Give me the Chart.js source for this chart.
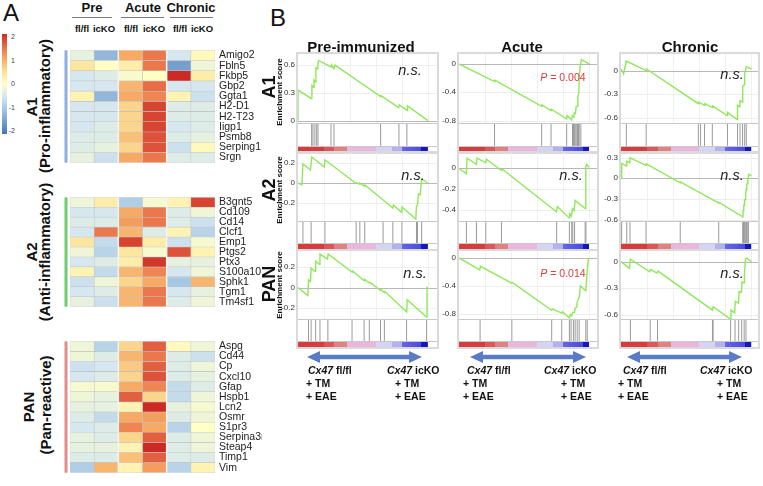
<!DOCTYPE html>
<html>
<head>
<meta charset="utf-8">
<script src="https://cdn.jsdelivr.net/npm/chart.js@4.4.1/dist/chart.umd.min.js"></script>
<style>
body { margin: 0; background: #fff; }
#fig { position: relative; width: 763px; height: 486px; overflow: hidden; background: #fff;
  font-family: "Liberation Sans", Arial, Helvetica, sans-serif; color: #111; }
#fig canvas { position: absolute; }
.t { position: absolute; line-height: 1; white-space: nowrap; transform: translate(-50%, -50%); }
.line { position: absolute; height: 1px; background: #7a7a7a; }
</style>
</head>
<body>
<div id="fig"></div>
<script>
// ---- heatmap data (z-scores) ----
const conditions = ['Pre', 'Acute', 'Chronic'];
const genotypes = ['fl/fl', 'icKO'];

const a1Genes = ['Amigo2', 'Fbln5', 'Fkbp5', 'Gbp2', 'Ggta1', 'H2-D1', 'H2-T23', 'Iigp1', 'Psmb8', 'Serping1', 'Srgn'];
const a1Values = [
  [-0.3, -1.2, 1.0, 1.4, -0.5, 0.1],
  [0.4, 0.0, 0.3, 1.4, -1.5, -0.2],
  [-0.5, -0.4, -0.1, 0.0, 2.0, 0.3],
  [-0.5, -0.5, 0.9, 1.5, -0.5, -0.5],
  [0.2, -1.2, 1.0, 1.3, 0.2, -0.6],
  [-0.5, -0.5, 0.6, 1.8, -0.4, -0.4],
  [-0.5, -0.5, 0.6, 1.8, -0.4, -0.4],
  [-0.5, -0.4, 0.6, 1.8, -0.5, -0.4],
  [-0.4, -0.4, 0.8, 1.7, -0.4, -0.3],
  [-0.4, -0.3, 0.6, 1.7, -0.6, 0.1],
  [-0.3, -0.6, 1.0, 1.4, -0.4, -0.4]
];

const a2Genes = ['B3gnt5', 'Cd109', 'Cd14', 'Clcf1', 'Emp1', 'Ptgs2', 'Ptx3', 'S100a10', 'Sphk1', 'Tgm1', 'Tm4sf1'];
const a2Values = [
  [-0.2, 0.3, -0.9, -0.1, 0.2, 1.8],
  [-0.5, -0.5, 1.0, 1.4, -0.4, -0.2],
  [-0.4, -0.4, 1.1, 1.4, -0.4, -0.6],
  [-0.5, 1.4, 0.9, -0.4, 0.2, -0.8],
  [0.4, -0.7, 1.8, 0.3, -0.6, -0.1],
  [-0.2, -0.8, 0.4, -0.1, 1.7, 0.2],
  [-0.5, -0.4, 0.3, 1.9, -0.3, -0.3],
  [0.2, -0.7, 0.9, 1.3, -0.5, -0.2],
  [-0.6, -0.2, 0.6, 1.0, -1.0, 0.9],
  [-0.5, -0.4, 0.9, 1.4, -0.5, -0.3],
  [-0.3, -0.6, 0.9, 1.4, -0.4, -0.2]
];

const panGenes = ['Aspg', 'Cd44', 'Cp', 'Cxcl10', 'Gfap', 'Hspb1', 'Lcn2', 'Osmr', 'S1pr3', 'Serpina3n', 'Steap4', 'Timp1', 'Vim'];
const panValues = [
  [-0.2, -0.8, 0.6, 1.6, 0.1, -0.2],
  [-0.2, -0.4, 0.9, 1.4, -0.4, -0.6],
  [-0.6, -0.5, 0.7, 1.6, -0.4, -0.2],
  [-0.5, -0.4, 0.6, 1.7, -0.4, -0.3],
  [-0.1, -0.1, 1.0, 1.3, -0.7, -0.4],
  [-0.2, -0.3, 1.6, 0.6, -0.7, -0.2],
  [-0.3, -0.3, 0.2, 2.0, -0.3, -0.1],
  [-0.4, -0.7, 1.0, 1.1, -0.4, -0.2],
  [-0.5, -0.4, 1.3, 1.0, -0.8, 0.0],
  [-0.3, -0.4, 0.6, 1.6, -0.4, -0.2],
  [-0.3, -0.3, 0.2, 2.0, -0.4, -0.2],
  [-0.4, -0.4, 0.8, 1.6, -0.4, -0.4],
  [-0.9, 0.9, 0.2, 1.1, -0.8, 0.2]
];
const colorbarTicks = [2, 1, 0, -1, -2];

// ---- GSEA running enrichment scores: [rank %, ES] ----
const preA1Curve = [[0,0],[0,0.33],[10.2,0.24],[10.7,0.38],[12,0.36],[12.3,0.44],[13.3,0.42],[13.8,0.57],[14.8,0.56],[15.3,0.6],[15.8,0.65],[25.5,0.58],[26,0.6],[27.7,0.56],[28.5,0.6],[63.6,0.26],[63.8,0.27],[77.5,0.14],[78,0.17],[84,0.11],[84.3,0.16],[100,0]];
const acuteA1Curve = [[0,0],[27.3,-0.25],[27.5,-0.23],[63.5,-0.6],[63.7,-0.58],[70.7,-0.66],[71,-0.64],[82.7,-0.78],[83,-0.73],[86.5,-0.79],[87.2,-0.73],[88.2,-0.75],[88.5,-0.69],[89.5,-0.7],[90,-0.6],[91,-0.6],[91.3,-0.45],[92,-0.42],[92.3,-0.2],[93,-0.05],[94,0.06],[100,0]];
const chronicA1Curve = [[0,0.02],[2,-0.04],[4.1,0.12],[19.3,0],[19.5,0.02],[59.3,-0.42],[59.5,-0.4],[64,-0.44],[64.3,-0.42],[70,-0.47],[70.3,-0.45],[81.4,-0.57],[81.7,-0.53],[89,-0.62],[89.3,-0.44],[91,-0.46],[91.3,-0.38],[93,-0.4],[93.3,-0.2],[94.5,-0.18],[94.8,-0.04],[96,0.05],[100,0.02]];
const preA2Curve = [[0,0],[3,-0.02],[3.8,0.19],[9.6,0.13],[10.6,0.26],[20.2,0.16],[20.9,0.23],[44.3,0],[45,0.005],[47,-0.01],[47.5,0],[51,-0.03],[51.5,-0.02],[65.5,-0.17],[73,-0.25],[73.5,-0.22],[79.3,-0.29],[80,-0.24],[90.7,-0.36],[91.2,-0.23],[92,-0.22],[92.7,-0.11],[94,-0.12],[95.2,0.04],[100,0]];
const acuteA2Curve = [[0,0],[5.7,-0.05],[6.2,0.1],[13.4,0.04],[13.9,0.1],[20.6,0.055],[21.1,0.09],[32.6,-0.02],[33.2,-0.005],[74.8,-0.42],[75.6,-0.37],[84.6,-0.48],[85.1,-0.44],[86.4,-0.46],[87.1,-0.39],[88.4,-0.41],[89.2,-0.31],[96.9,-0.39],[97.4,0.02],[98.2,0.04],[100,0.01]];
const chronicA2Curve = [[0,0],[0.5,0.22],[4.2,0.18],[4.4,0.25],[6.7,0.23],[6.9,0.3],[19.2,0.19],[19.4,0.21],[45.4,-0.065],[45.6,-0.05],[74.9,-0.36],[75.1,-0.35],[93.3,-0.56],[93.5,-0.47],[93.9,-0.47],[94.1,-0.39],[94.5,-0.39],[94.7,-0.31],[95.1,-0.31],[95.3,-0.24],[95.7,-0.24],[95.9,-0.16],[96.3,-0.16],[96.5,-0.08],[97,-0.08],[97.2,0],[97.6,0],[97.8,0.06],[100,0.04]];
const prePanCurve = [[0,0],[7.6,-0.08],[8.1,0.077],[9.6,0.06],[10.1,0.19],[13.1,0.16],[13.6,0.26],[16.4,0.23],[16.9,0.33],[22.7,0.28],[23.2,0.33],[41.6,0.153],[42.1,0.16],[50.9,0.07],[51.5,0.08],[54.9,0.045],[55.5,0.05],[63.5,-0.03],[64,-0.02],[66.5,-0.05],[67,-0.04],[83.6,-0.24],[84.1,-0.12],[98.9,-0.29],[99.3,0],[100,0]];
const acutePanCurve = [[0,0],[15.9,-0.17],[16.5,-0.12],[40.4,-0.36],[40.9,-0.35],[71.2,-0.75],[71.7,-0.73],[78.9,-0.79],[79.4,-0.77],[84.8,-0.86],[85.6,-0.81],[86.6,-0.83],[87.4,-0.78],[88.7,-0.78],[89.2,-0.72],[90.5,-0.7],[90.8,-0.63],[91.6,-0.6],[92.5,-0.55],[93.3,-0.4],[97.4,-0.47],[98.2,-0.25],[98.8,-0.12],[99.5,0]];
const chronicPanCurve = [[0,0],[6.4,-0.077],[7.2,0.027],[21.9,-0.115],[22.7,-0.09],[27.6,-0.13],[28.4,-0.108],[70.1,-0.55],[70.6,-0.51],[83.8,-0.65],[84.3,-0.55],[87.1,-0.58],[87.6,-0.45],[90,-0.47],[90.5,-0.34],[92.3,-0.35],[92.8,-0.23],[94.3,-0.24],[94.6,-0.12],[95.5,0.03],[96.4,0.04],[100,0]];

// gene-set hit positions (rank %)
const preA1Hits = [10.5, 11.5, 13, 14.4, 15.4, 25.4, 27.7, 63.6, 77.7, 83.8];
const acuteA1Hits = [27.3, 63.5, 70.7, 82.7, 87.2, 88, 88.5, 89, 89.8, 90.6, 91.1, 91.8, 92.3, 93.6];
const chronicA1Hits = [4.1, 19.3, 59.3, 61, 64, 70, 81.6, 89.3, 91.2, 93.2, 94.8, 96];
const preA2Hits = [3.8, 10.1, 20.7, 44.8, 47.6, 51.4, 65.5, 73, 80, 91.2, 92, 95.2];
const acuteA2Hits = [5.7, 13.4, 20.6, 32.6, 75, 84.8, 86.6, 87.4, 88.8, 96.9, 97.5];
const chronicA2Hits = [0.5, 4.4, 6.9, 19.2, 45.4, 74.9, 93.3, 93.9, 94.5, 95.1, 95.7, 96.3, 97.2, 97.6];
const prePanHits = [8.1, 10.1, 13.6, 16.9, 23, 41.6, 50.9, 54.9, 63.5, 66.5, 83.6, 99];
const acutePanHits = [16.2, 40.6, 71.2, 78.9, 84.8, 86.1, 87.9, 89.2, 90.8, 92.3, 97.4, 98.5];
const chronicPanHits = [7.2, 22.4, 28, 70.1, 70.6, 84, 87.4, 90.2, 92.5, 94.4, 95.8];

// y tick labels of each enrichment plot
const preA1Ticks = [0, 0.3, 0.6];
const acuteA1Ticks = [-0.8, -0.4, 0];
const chronicA1Ticks = [-0.6, -0.3, 0];
const preA2Ticks = [-0.2, 0, 0.2];
const acuteA2Ticks = [-0.4, -0.2, 0];
const chronicA2Ticks = [-0.6, -0.3, 0, 0.3];
const prePanTicks = [-0.2, 0, 0.2];
const acutePanTicks = [-0.8, -0.4, 0];
const chronicPanTicks = [-0.6, -0.3, 0];

const columnTitles = ['Pre-immunized', 'Acute', 'Chronic'];
const rowTitles = ['A1', 'A2', 'PAN'];
const stats = [['n.s.', '<i>P</i> = 0.004', 'n.s.'], ['n.s.', 'n.s.', 'n.s.'], ['n.s.', '<i>P</i> = 0.014', 'n.s.']];

// ---------------------------------------------------------------
const FONT = '"Liberation Sans", Arial, Helvetica, sans-serif';
Chart.defaults.font.family = FONT;
const fig = document.getElementById('fig');

function txt(html, x, y, css, rotate) {
  const d = document.createElement('div');
  d.className = 't';
  d.innerHTML = html;
  d.style.cssText = 'left:' + x + 'px;top:' + y + 'px;' + (css || '');
  if (rotate) d.style.transform = 'translate(-50%,-50%) rotate(-90deg)';
  fig.appendChild(d);
  return d;
}
function canvas(x, y, w, h) {
  const c = document.createElement('canvas');
  c.width = w; c.height = h;
  c.style.left = x + 'px'; c.style.top = y + 'px';
  fig.appendChild(c);
  return c;
}

// colour scale of the heatmap
const heatStops = [[-2, [69, 117, 180]], [-1, [166, 200, 227]], [-0.5, [214, 231, 240]], [0, [255, 255, 198]],
  [0.5, [253, 224, 150]], [1, [246, 170, 100]], [1.5, [232, 108, 70]], [2, [204, 42, 36]]];
function heatColor(v) {
  v = Math.max(-2, Math.min(2, v));
  for (let i = 1; i < heatStops.length; i++) {
    const [v0, c0] = heatStops[i - 1];
    const [v1, c1] = heatStops[i];
    if (v <= v1) {
      const t = (v - v0) / (v1 - v0);
      return 'rgb(' + c0.map((c, k) => Math.round(c + (c1[k] - c) * t)).join(',') + ')';
    }
  }
}

const heatDecor = {
  id: 'heatDecor',
  afterDatasetsDraw(chart, args, opts) {
    const { ctx, chartArea: a, scales: { x } } = chart;
    ctx.save();
    ctx.fillStyle = opts.strip;
    ctx.fillRect(a.left - 5.5, a.top, 3, a.height);
    ctx.strokeStyle = '#f4f4f4';
    ctx.lineWidth = 1.5;
    [2, 4].forEach(v => {
      const px = x.getPixelForValue(v);
      ctx.beginPath(); ctx.moveTo(px, a.top); ctx.lineTo(px, a.bottom); ctx.stroke();
    });
    ctx.restore();
  }
};

function heatmap(top, height, genes, values, strip) {
  const cv = canvas(62, top, 200, height);
  const cols = [0, 1, 2, 3, 4, 5];
  new Chart(cv, {
    type: 'bar',
    data: {
      labels: genes,
      datasets: cols.map(c => ({
        data: genes.map(() => 1),
        backgroundColor: values.map(r => heatColor(r[c])),
        borderColor: 'rgba(150,150,150,0.45)',
        borderWidth: 0.6,
        borderSkipped: false,
        barPercentage: 1,
        categoryPercentage: 1
      }))
    },
    options: {
      indexAxis: 'y',
      responsive: false,
      animation: false,
      layout: { padding: { left: 8, top: 0, bottom: 0, right: 0 } },
      plugins: { legend: { display: false }, tooltip: { enabled: false }, heatDecor: { strip: strip } },
      scales: {
        x: { stacked: true, min: 0, max: 6, display: false },
        y: {
          stacked: true, position: 'right',
          grid: { display: false, drawTicks: false }, border: { display: false },
          ticks: { font: { size: 10.5 }, color: '#222', padding: 4, autoSkip: false },
          afterFit: s => { s.width = 47; }
        }
      }
    },
    plugins: [heatDecor]
  });
}

heatmap(40, 133, a1Genes, a1Values, '#8eaee0');
heatmap(187, 130, a2Genes, a2Values, '#6bcf6b');
heatmap(331, 152, panGenes, panValues, '#e68a8a');

// colour bar
const cb = document.createElement('div');
cb.style.cssText = 'position:absolute;left:2px;top:34px;width:5px;height:100px;background:linear-gradient(to bottom,' +
  heatStops.slice().reverse().map(s => 'rgb(' + s[1].join(',') + ') ' + ((2 - s[0]) / 4 * 100) + '%').join(',') + ');';
fig.appendChild(cb);
colorbarTicks.forEach(v => {
  const d = txt(String(v), 15, 36 + (2 - v) / 4 * 94, 'font-size:7px;color:#444;');
  d.style.transform = 'translate(-100%,-50%)';
});

// heatmap headers
txt('A', 11, 13, 'font-size:24px;');
txt('B', 278, 18, 'font-size:24px;');
const groupCenters = [92, 143, 191];
const groupLines = [[72, 112], [121, 164], [170, 213]];
conditions.forEach((c, i) => {
  txt(c, groupCenters[i], 7, 'font-size:13px;font-weight:bold;');
  const l = document.createElement('div');
  l.className = 'line';
  l.style.left = groupLines[i][0] + 'px'; l.style.top = '17px';
  l.style.width = (groupLines[i][1] - groupLines[i][0]) + 'px';
  fig.appendChild(l);
});
const colCenters = [82, 104, 131, 154, 180, 202];
colCenters.forEach((x, i) => txt(genotypes[i % 2], x, 29, 'font-size:9.5px;font-weight:bold;'));

// rotated set names for panel A
txt('A1', 31, 107, 'font-size:15px;font-weight:bold;', true);
txt('(Pro-inflammatory)', 44, 106, 'font-size:15px;font-weight:bold;', true);
txt('A2', 31, 252, 'font-size:15px;font-weight:bold;', true);
txt('(Anti-inflammatory)', 44, 252, 'font-size:15px;font-weight:bold;', true);
txt('PAN', 28, 407, 'font-size:15px;font-weight:bold;', true);
txt('(Pan-reactive)', 45, 405, 'font-size:15px;font-weight:bold;', true);

// ---- panel B: enrichment plots ----
const rankStops = [[0, '#d63c3c'], [0.2, '#d63c3c'], [0.2, '#dc5858'], [0.28, '#dc5858'], [0.28, '#e08282'], [0.38, '#e08282'],
  [0.38, '#eab6de'], [0.6, '#eab6de'], [0.6, '#d4d4f6'], [0.72, '#d4d4f6'], [0.72, '#b2b2f2'], [0.8, '#b2b2f2'],
  [0.8, '#6666e6'], [0.95, '#4a4ade'], [0.95, '#1616bf'], [1, '#1616bf']];
function rankGradient(ctx) {
  const chart = ctx.chart;
  if (!chart.chartArea) return null;
  const xs = chart.scales.x;
  const g = chart.ctx.createLinearGradient(xs.getPixelForValue(0), 0, xs.getPixelForValue(100), 0);
  rankStops.forEach(s => g.addColorStop(s[0], s[1]));
  return g;
}

// grid and frame of one enrichment plot
function makeFrame(ticks) {
  return {
    id: 'frame',
    beforeDatasetsDraw(chart) {
      const { ctx, chartArea: a, scales } = chart;
      const ys = scales.y;
      ctx.save();
      ctx.lineWidth = 1;
      ctx.strokeStyle = '#f0f0f0';
      [20, 40, 60, 80, 100].forEach(v => {
        const x = Math.round(scales.x.getPixelForValue(v)) + 0.5;
        ctx.beginPath(); ctx.moveTo(x, ys.top); ctx.lineTo(x, ys.bottom); ctx.stroke();
      });
      ticks.forEach(v => {
        const y = Math.round(ys.getPixelForValue(v)) + 0.5;
        ctx.strokeStyle = v === 0 ? '#b8b8b8' : '#eeeeee';
        ctx.beginPath(); ctx.moveTo(a.left, y); ctx.lineTo(a.right, y); ctx.stroke();
      });
      ctx.restore();
    },
    afterDraw(chart) {
      const { ctx, chartArea: a, scales } = chart;
      ctx.save();
      ctx.strokeStyle = '#c8c8c8';
      ctx.lineWidth = 1;
      [scales.y.bottom, scales.yh.bottom].forEach(y => {
        ctx.beginPath(); ctx.moveTo(a.left, Math.round(y) + 0.5); ctx.lineTo(a.right, Math.round(y) + 0.5); ctx.stroke();
      });
      ctx.strokeStyle = '#dadada';
      ctx.lineWidth = 2;
      ctx.strokeRect(a.left - 1, a.top - 1, a.width + 2, a.height + 2);
      ctx.restore();
    }
  };
}

const colLeft = [298, 459, 621];
const colRight = [437, 597, 758];
const colXMax = [107, 106, 105];
const rowTop = [54, 153, 251];
const rowHeight = [98, 96, 96];

function gsea(col, row, curve, hits, ticks, yMin, yMax) {
  const L = colLeft[col], R = colRight[col];
  const cx = L - 26, cy = rowTop[row] - 2;
  const cv = canvas(cx, cy, R - L + 28, rowHeight[row] + 4);
  const chart = new Chart(cv, {
    type: 'line',
    data: {
      datasets: [
        { data: curve.map(p => ({ x: p[0], y: p[1] })), yAxisID: 'y', borderColor: '#8fe85a', borderWidth: 1.4,
          pointRadius: 0, fill: false, tension: 0 },
        { data: hits.flatMap(h => [{ x: h, y: 0 }, { x: h, y: 1 }, { x: h, y: null }]), yAxisID: 'yh',
          borderColor: '#9a9a9a', borderWidth: 1, pointRadius: 0, fill: false, spanGaps: false },
        { data: [{ x: 0, y: 1 }, { x: 100, y: 1 }], yAxisID: 'yb', borderWidth: 0, pointRadius: 0,
          fill: 'origin', backgroundColor: rankGradient }
      ]
    },
    options: {
      responsive: false,
      animation: false,
      layout: { padding: { top: 2, bottom: 2, left: 0, right: 2 } },
      plugins: { legend: { display: false }, tooltip: { enabled: false } },
      scales: {
        x: { type: 'linear', min: 0, max: colXMax[col], display: false },
        y: {
          min: yMin, max: yMax, stack: 'g', stackWeight: 68, weight: 3, position: 'left',
          afterFit: s => { s.width = 26; s.paddingTop = 0; s.paddingBottom = 0; },
          ticks: { display: false },
          grid: { display: false },
          border: { display: false }
        },
        yh: { min: 0, max: 1, stack: 'g', stackWeight: 22, weight: 2, position: 'left', display: false },
        yb: { min: 0, max: 1, stack: 'g', stackWeight: 6, weight: 1, position: 'left', display: false }
      }
    },
    plugins: [makeFrame(ticks)]
  });
  // tick labels placed from the chart's own y scale
  const ys = chart.scales.y;
  ticks.forEach(v => {
    const d = txt(String(v), cx + chart.chartArea.left - 3, cy + ys.getPixelForValue(v), 'font-size:8px;color:#333;');
    d.style.transform = 'translate(-100%,-50%)';
  });
}

gsea(0, 0, preA1Curve, preA1Hits, preA1Ticks, -0.03, 0.72);
gsea(1, 0, acuteA1Curve, acuteA1Hits, acuteA1Ticks, -0.84, 0.14);
gsea(2, 0, chronicA1Curve, chronicA1Hits, chronicA1Ticks, -0.67, 0.21);
gsea(0, 1, preA2Curve, preA2Hits, preA2Ticks, -0.38, 0.3);
gsea(1, 1, acuteA2Curve, acuteA2Hits, acuteA2Ticks, -0.51, 0.15);
gsea(2, 1, chronicA2Curve, chronicA2Hits, chronicA2Ticks, -0.62, 0.37);
gsea(0, 2, prePanCurve, prePanHits, prePanTicks, -0.31, 0.36);
gsea(1, 2, acutePanCurve, acutePanHits, acutePanTicks, -0.875, 0.1);
gsea(2, 2, chronicPanCurve, chronicPanHits, chronicPanTicks, -0.65, 0.12);

// titles and labels of panel B
const titleX = [361, 522, 690];
columnTitles.forEach((t, i) => txt(t, titleX[i], 46, 'font-size:15px;font-weight:bold;'));
const rowLabelY = [87, 190, 284];
const esLabelY = [92, 190, 285];
rowTitles.forEach((t, i) => {
  txt(t, 269, rowLabelY[i], 'font-size:18px;font-weight:bold;', true);
  txt('Enrichment score', 280, esLabelY[i], 'font-size:8px;font-weight:bold;', true);
});
const statX = [[410, 563, 732], [413, 571, 732], [415, 563, 732]];
const statY = [[70, 77, 74], [175, 175, 175], [273, 273, 273]];
stats.forEach((r, i) => r.forEach((s, j) => {
  if (s === 'n.s.') txt(s, statX[i][j], statY[i][j], 'font-size:14.5px;font-style:italic;color:#222;');
  else txt(s, statX[i][j], statY[i][j], 'font-size:10.5px;color:#e03a3a;');
}));

// arrows and genotype labels
const arrowX = [[307, 422], [470, 586], [627, 742]];
const svgNS = 'http://www.w3.org/2000/svg';
const svg = document.createElementNS(svgNS, 'svg');
svg.setAttribute('width', 763); svg.setAttribute('height', 486);
svg.style.cssText = 'position:absolute;left:0;top:0;';
arrowX.forEach(([x1, x2]) => {
  const y = 357, hl = 13, hh = 6, sh = 2.3;
  const pts = [[x1, y], [x1 + hl, y - hh], [x1 + hl, y - sh], [x2 - hl, y - sh], [x2 - hl, y - hh], [x2, y],
    [x2 - hl, y + hh], [x2 - hl, y + sh], [x1 + hl, y + sh], [x1 + hl, y + hh]];
  const p = document.createElementNS(svgNS, 'polygon');
  p.setAttribute('points', pts.map(q => q.join(',')).join(' '));
  p.setAttribute('fill', '#5b7bc6');
  svg.appendChild(p);
});
fig.appendChild(svg);

const leftLab = [[308, 306], [467, 463], [623, 618]];
const rightLab = [[387, 395], [544, 561], [700, 717]];
function genoLabel(x1, x2, geno) {
  const a = txt('<i>Cx47</i> ' + geno, x1, 370, 'font-size:10.5px;font-weight:bold;');
  a.style.transform = 'translate(0,-50%)';
  const b = txt('+ TM', x2, 383, 'font-size:10.5px;font-weight:bold;');
  b.style.transform = 'translate(0,-50%)';
  const c = txt('+ EAE', x2, 396, 'font-size:10.5px;font-weight:bold;');
  c.style.transform = 'translate(0,-50%)';
}
leftLab.forEach(p => genoLabel(p[0], p[1], 'fl/fl'));
rightLab.forEach(p => genoLabel(p[0], p[1], 'icKO'));
</script>
</body>
</html>
